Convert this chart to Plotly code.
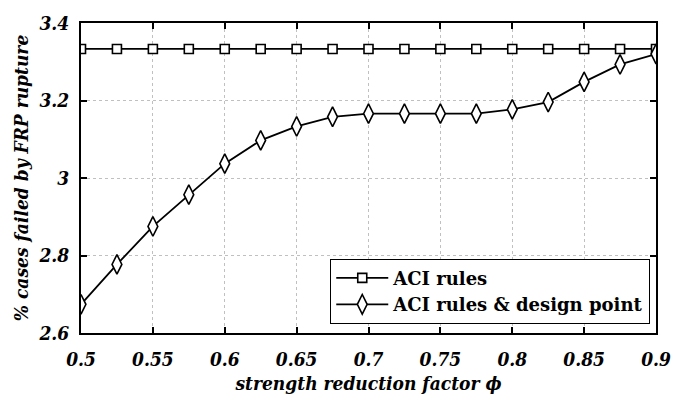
import plotly.graph_objects as go

phi = [0.5, 0.525, 0.55, 0.575, 0.6, 0.625, 0.65, 0.675, 0.7, 0.725, 0.75, 0.775, 0.8, 0.825, 0.85, 0.875, 0.9]
aci_rules = [3.333] * 17
aci_design = [2.674, 2.777, 2.875, 2.957, 3.037, 3.097, 3.133, 3.158, 3.166, 3.166, 3.166, 3.166, 3.177, 3.196, 3.248, 3.293, 3.320]

x_ticks = [0.5, 0.55, 0.6, 0.65, 0.7, 0.75, 0.8, 0.85, 0.9]
x_labels = ["0.5", "0.55", "0.6", "0.65", "0.7", "0.75", "0.8", "0.85", "0.9"]
y_ticks = [2.6, 2.8, 3.0, 3.2, 3.4]
y_labels = ["2.6", "2.8", "3", "3.2", "3.4"]

FONT = "DejaVu Serif Condensed"
LEGEND_FONT = "DejaVu Serif"

fig = go.Figure()
fig.add_trace(go.Scatter(
    x=phi, y=aci_rules, mode="lines+markers", name="ACI rules",
    line=dict(color="black", width=1.8),
    marker=dict(symbol="square", size=9, color="white", line=dict(color="black", width=1.6)),
))
fig.add_trace(go.Scatter(
    x=phi, y=aci_design, mode="lines+markers", name="ACI rules & design point",
    line=dict(color="black", width=1.8),
    marker=dict(symbol="diamond-tall", size=14, color="white", line=dict(color="black", width=1.6)),
))

axis_common = dict(
    showline=True, linecolor="black", linewidth=2, mirror="allticks",
    ticks="inside", ticklen=6, tickwidth=2, tickcolor="black",
    showgrid=True, gridcolor="#c0c0c0", griddash="dot", gridwidth=1,
    zeroline=False,
    tickfont=dict(family=FONT, size=19, weight="bold", style="italic", color="black"),
)

fig.update_xaxes(
    range=[0.5, 0.9], tickvals=x_ticks, ticktext=x_labels, ticklabelstandoff=8,
    title=dict(text="strength reduction factor \u03d5", standoff=8,
               font=dict(family=FONT, size=19, weight="bold", style="italic", color="black")),
    **axis_common,
)
fig.update_yaxes(
    range=[2.6, 3.4], tickvals=y_ticks, ticktext=y_labels, ticklabelstandoff=6,
    title=dict(text="% cases failed by FRP rupture", standoff=5,
               font=dict(family=FONT, size=19, weight="bold", style="italic", color="black")),
    **axis_common,
)

fig.update_layout(
    width=683, height=403,
    margin=dict(l=81, r=17, t=18, b=67),
    plot_bgcolor="white", paper_bgcolor="white",
    font=dict(family=FONT),
    showlegend=True,
    legend=dict(
        x=0.99, y=0.03, xanchor="right", yanchor="bottom",
        bgcolor="white", bordercolor="black", borderwidth=1,
        font=dict(family=LEGEND_FONT, size=18, weight="bold", color="black"),
        itemwidth=52, tracegroupgap=0,
    ),
)

fig.write_html("out.html")
